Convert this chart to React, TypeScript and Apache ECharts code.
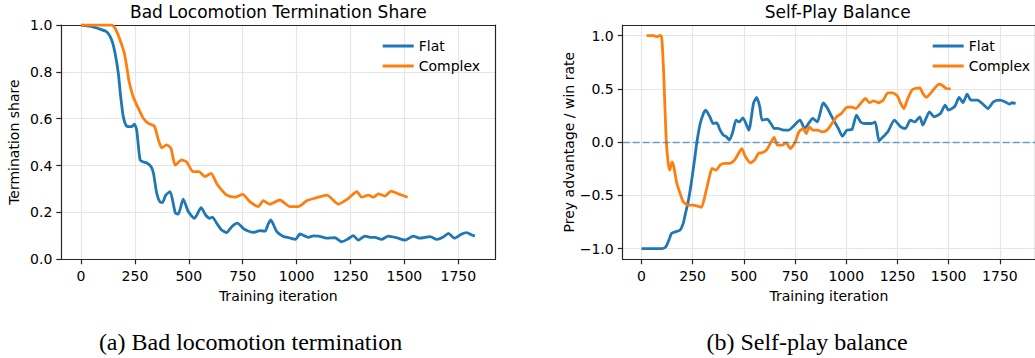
import React, { useEffect, useRef } from "react";
import * as echarts from "echarts";

// ---------- data ----------
const xTicks = [0, 250, 500, 750, 1000, 1250, 1500, 1750];
const leftYTicks = [0, 0.2, 0.4, 0.6, 0.8, 1.0];
const rightYTicks = [-1, -0.5, 0, 0.5, 1];

const termFlatX = [0, 40, 80, 119, 142, 158, 173, 184, 196, 211, 235, 247, 258, 274, 290, 304, 325, 336, 351, 366, 377, 393, 413, 437, 451, 474, 498, 526, 557, 578, 598, 609, 632, 652, 675, 700, 725, 758, 799, 830, 854, 868, 880, 908, 939, 965, 994, 1016, 1054, 1078, 1101, 1140, 1178, 1209, 1235, 1263, 1286, 1317, 1341, 1363, 1394, 1425, 1464, 1503, 1541, 1572, 1619, 1650, 1680, 1704, 1732, 1766, 1789, 1810, 1827];
const termFlatY = [1.0, 0.995, 0.985, 0.971, 0.936, 0.879, 0.794, 0.694, 0.609, 0.569, 0.566, 0.577, 0.552, 0.424, 0.415, 0.412, 0.395, 0.367, 0.282, 0.245, 0.242, 0.274, 0.289, 0.199, 0.193, 0.257, 0.203, 0.175, 0.22, 0.189, 0.175, 0.18, 0.15, 0.125, 0.114, 0.14, 0.154, 0.128, 0.115, 0.122, 0.12, 0.15, 0.168, 0.118, 0.097, 0.092, 0.085, 0.108, 0.094, 0.1, 0.099, 0.09, 0.092, 0.075, 0.085, 0.101, 0.082, 0.099, 0.094, 0.094, 0.085, 0.099, 0.092, 0.082, 0.099, 0.09, 0.097, 0.085, 0.095, 0.111, 0.09, 0.108, 0.114, 0.105, 0.099];

const termComplexX = [0, 100, 142, 158, 181, 201, 212, 223, 242, 266, 289, 312, 340, 359, 374, 397, 417, 437, 467, 490, 520, 547, 575, 603, 629, 652, 675, 714, 750, 783, 822, 845, 876, 922, 969, 1008, 1047, 1093, 1140, 1194, 1240, 1279, 1302, 1333, 1356, 1379, 1410, 1438, 1472, 1515];
const termComplexY = [1.0, 1.0, 1.0, 0.986, 0.936, 0.879, 0.822, 0.758, 0.694, 0.644, 0.602, 0.58, 0.569, 0.509, 0.476, 0.488, 0.474, 0.402, 0.424, 0.415, 0.374, 0.374, 0.353, 0.367, 0.324, 0.296, 0.274, 0.265, 0.277, 0.246, 0.225, 0.25, 0.235, 0.253, 0.225, 0.225, 0.25, 0.263, 0.274, 0.236, 0.26, 0.289, 0.265, 0.274, 0.265, 0.279, 0.27, 0.291, 0.279, 0.265];

const balFlatX = [0, 100, 119, 134, 147, 166, 189, 204, 215, 228, 243, 259, 271, 287, 303, 314, 334, 350, 368, 384, 400, 415, 430, 446, 462, 477, 496, 524, 547, 563, 578, 589, 614, 632, 648, 664, 695, 719, 742, 774, 797, 836, 859, 887, 906, 938, 961, 981, 1003, 1028, 1050, 1070, 1094, 1125, 1141, 1160, 1172, 1203, 1235, 1266, 1289, 1313, 1335, 1359, 1374, 1406, 1429, 1460, 1483, 1499, 1530, 1551, 1570, 1590, 1609, 1640, 1664, 1692, 1718, 1750, 1774, 1797, 1810, 1827];
const balFlatY = [-1.0, -1.0, -0.983, -0.92, -0.857, -0.842, -0.826, -0.763, -0.669, -0.56, -0.388, -0.169, 0.003, 0.175, 0.269, 0.3, 0.238, 0.175, 0.18, 0.113, 0.066, 0.05, 0.02, 0.097, 0.207, 0.19, 0.228, 0.113, 0.363, 0.42, 0.33, 0.207, 0.216, 0.175, 0.128, 0.13, 0.113, 0.113, 0.15, 0.207, 0.128, 0.222, 0.19, 0.369, 0.325, 0.207, 0.13, 0.056, 0.113, 0.12, 0.254, 0.19, 0.175, 0.175, 0.19, 0.012, 0.034, 0.097, 0.207, 0.144, 0.128, 0.207, 0.19, 0.238, 0.16, 0.285, 0.238, 0.269, 0.347, 0.3, 0.337, 0.42, 0.37, 0.451, 0.394, 0.394, 0.363, 0.316, 0.378, 0.394, 0.38, 0.357, 0.37, 0.363];

const balComplexX = [25, 60, 75, 88, 95, 100, 108, 114, 122, 131, 138, 150, 158, 173, 189, 204, 228, 251, 274, 293, 309, 330, 345, 365, 384, 407, 430, 454, 474, 490, 508, 532, 552, 571, 589, 610, 634, 648, 664, 687, 706, 727, 751, 769, 789, 805, 820, 836, 859, 883, 906, 930, 953, 976, 1000, 1023, 1047, 1070, 1094, 1113, 1133, 1157, 1180, 1203, 1227, 1250, 1266, 1282, 1297, 1320, 1335, 1359, 1374, 1390, 1413, 1437, 1452, 1468, 1488, 1510];
const balComplexY = [1.0, 1.0, 0.99, 1.0, 1.0, 0.96, 0.676, 0.363, -0.013, -0.2, -0.263, -0.185, -0.232, -0.388, -0.482, -0.56, -0.592, -0.592, -0.6, -0.613, -0.513, -0.341, -0.247, -0.263, -0.216, -0.2, -0.2, -0.169, -0.106, -0.06, -0.138, -0.194, -0.169, -0.106, -0.1, -0.075, 0.003, 0.044, -0.028, -0.028, -0.006, -0.06, 0.003, 0.097, 0.128, 0.081, 0.144, 0.113, 0.113, 0.097, 0.113, 0.175, 0.238, 0.269, 0.325, 0.33, 0.316, 0.363, 0.41, 0.37, 0.388, 0.37, 0.394, 0.463, 0.463, 0.432, 0.363, 0.316, 0.394, 0.488, 0.504, 0.51, 0.457, 0.42, 0.463, 0.519, 0.545, 0.535, 0.504, 0.5];

const seriesNames = ["Flat", "Complex"];
const titles = ["Bad Locomotion Termination Share", "Self-Play Balance"];
const captions = ["(a) Bad locomotion termination", "(b) Self-play balance"];
const xName = "Training iteration";
const yNames = ["Termination share", "Prey advantage / win rate"];

// ---------- styles ----------
const FONT = "DejaVu Sans";
const BLUE = "#1f77b4";
const ORANGE = "#ff7f0e";
const INK = "#262626";
const GRIDC = "#e6e6e6";
const X_MIN = -91.5;
const X_MAX = 1921.5;

const zip = (xs: number[], ys: number[]) => xs.map((x, i) => [x, ys[i]]);
const fmt = (v: number) => v.toFixed(1).replace("-", "\u2212");

function xAxisFor(gridIndex: number) {
  return {
    type: "value",
    gridIndex,
    min: X_MIN,
    max: X_MAX,
    minInterval: 250,
    maxInterval: 250,
    name: xName,
    nameLocation: "middle",
    nameGap: 30,
    nameTextStyle: { fontFamily: FONT, fontSize: 14, color: "#000" },
    axisLine: { show: true, onZero: false, lineStyle: { color: INK, width: 1.2 } },
    axisTick: { show: true, length: 5, customValues: xTicks, lineStyle: { color: INK, width: 1.2 } },
    axisLabel: { customValues: xTicks, margin: 10, fontFamily: FONT, fontSize: 14, color: "#000", formatter: (v: number) => String(v) },
    splitLine: { show: true, customValues: xTicks, lineStyle: { color: GRIDC, width: 1.2 } },
    z: 3,
  };
}

function frameX(gridIndex: number) {
  return {
    type: "value",
    gridIndex,
    position: "top",
    min: X_MIN,
    max: X_MAX,
    axisLine: { show: true, onZero: false, lineStyle: { color: INK, width: 1.2 } },
    axisTick: { show: false },
    axisLabel: { show: false },
    splitLine: { show: false },
    z: 3,
  };
}

function frameY(gridIndex: number, min: number, max: number) {
  return {
    type: "value",
    gridIndex,
    position: "right",
    min,
    max,
    axisLine: { show: true, onZero: false, lineStyle: { color: INK, width: 1.2 } },
    axisTick: { show: false },
    axisLabel: { show: false },
    splitLine: { show: false },
    z: 3,
  };
}

function yAxisFor(gridIndex: number, min: number, max: number, ticks: number[], name: string, gap: number, step: number) {
  return {
    type: "value",
    gridIndex,
    min,
    max,
    minInterval: step,
    maxInterval: step,
    name,
    nameLocation: "middle",
    nameGap: gap,
    nameTextStyle: { fontFamily: FONT, fontSize: 14, color: "#000" },
    axisLine: { show: true, onZero: false, lineStyle: { color: INK, width: 1.2 } },
    axisTick: { show: true, length: 5, customValues: ticks, lineStyle: { color: INK, width: 1.2 } },
    axisLabel: { customValues: ticks, margin: 9, fontFamily: FONT, fontSize: 14, color: "#000", formatter: (v: number) => fmt(v) },
    splitLine: { show: true, customValues: ticks, lineStyle: { color: GRIDC, width: 1.2 } },
    z: 3,
  };
}

function lineSeries(name: string, color: string, idx: number, data: number[][], extra: any = {}) {
  return {
    type: "line",
    name,
    xAxisIndex: idx,
    yAxisIndex: idx,
    data,
    showSymbol: false,
    symbol: "none",
    smooth: 0.2,
    lineStyle: { color, width: 2.8 },
    itemStyle: { color },
    ...extra,
  };
}

function legendAt(left: number) {
  return {
    left,
    top: 34,
    orient: "vertical",
    icon: "rect",
    itemWidth: 31,
    itemHeight: 3,
    itemGap: 6,
    selectedMode: false,
    data: seriesNames,
    textStyle: { fontFamily: FONT, fontSize: 14, color: "#000" },
  };
}

export default function App() {
  const ref = useRef<HTMLDivElement>(null);
  useEffect(() => {
    if (!ref.current) return;
    const chart = echarts.init(ref.current, undefined, { renderer: "svg" });
    const option: any = {
      animation: false,
      backgroundColor: "#ffffff",
      textStyle: { fontFamily: FONT },
      grid: [
        { left: 61.3, top: 25, width: 434, height: 234.3, show: false, containLabel: false },
        { left: 622.7, top: 25, width: 430, height: 234.3, show: false, containLabel: false },
      ],
      xAxis: [xAxisFor(0), xAxisFor(1), frameX(0), frameX(1)],
      yAxis: [
        yAxisFor(0, 0, 1, leftYTicks, yNames[0], 40, 0.2),
        yAxisFor(1, -1.1, 1.1, rightYTicks, yNames[1], 47, 0.5),
        frameY(0, 0, 1),
        frameY(1, -1.1, 1.1),
      ],
      legend: [legendAt(377.7), legendAt(927.7)],
      series: [
        lineSeries(seriesNames[0], BLUE, 0, zip(termFlatX, termFlatY)),
        lineSeries(seriesNames[1], ORANGE, 0, zip(termComplexX, termComplexY)),
        lineSeries(seriesNames[0], BLUE, 1, zip(balFlatX, balFlatY), {
          markLine: {
            silent: true,
            symbol: "none",
            label: { show: false },
            lineStyle: { color: BLUE, opacity: 0.65, width: 1.4, type: [7, 3] },
            data: [{ yAxis: 0 }],
          },
        }),
        lineSeries(seriesNames[1], ORANGE, 1, zip(balComplexX, balComplexY)),
      ],
      graphic: [
        { type: "text", x: 278.3, y: 12, style: { text: titles[0], font: `17px '${FONT}'`, fill: "#000", align: "center", verticalAlign: "middle" } },
        { type: "text", x: 837.7, y: 12, style: { text: titles[1], font: `17px '${FONT}'`, fill: "#000", align: "center", verticalAlign: "middle" } },
        { type: "text", x: 250.5, y: 342, style: { text: captions[0], font: "24px 'Liberation Serif'", fill: "#000", align: "center", verticalAlign: "middle" } },
        { type: "text", x: 807, y: 342, style: { text: captions[1], font: "24px 'Liberation Serif'", fill: "#000", align: "center", verticalAlign: "middle" } },
      ],
    };
    chart.setOption(option);
    return () => chart.dispose();
  }, []);
  return <div ref={ref} style={{ position: "absolute", left: 0, top: 0, width: 1035, height: 358 }} />;
}
